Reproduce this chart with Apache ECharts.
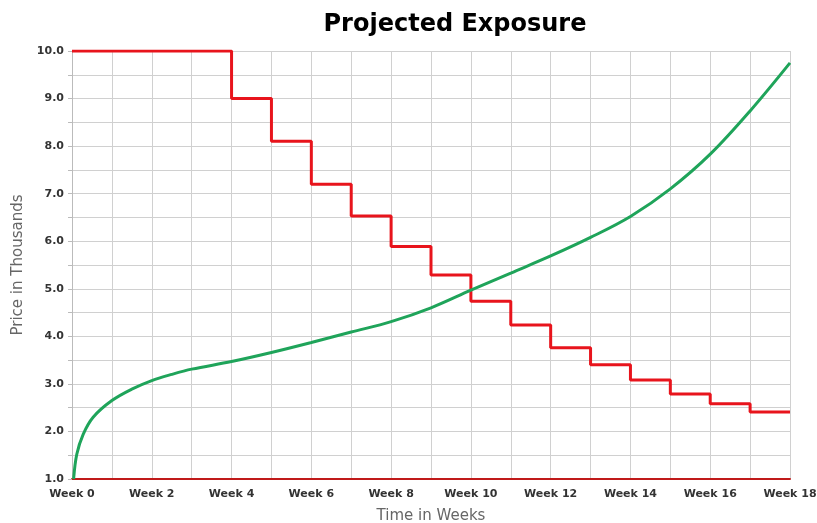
<!DOCTYPE html>
<html>
<head>
<meta charset="utf-8">
<script src="https://cdn.jsdelivr.net/npm/echarts@6/dist/echarts.min.js"></script>
<style>
  html, body { margin: 0; padding: 0; background: #fff; }
  #chart { width: 817px; height: 523px; }
</style>
</head>
<body>
<div id="chart"></div>
<script>
// price level per week (step line), last point repeats to close at week 18
const weeks = [0, 1, 2, 3, 4, 5, 6, 7, 8, 9, 10, 11, 12, 13, 14, 15, 16, 17, 18];
const stepPrice = [10, 10, 10, 10, 9.0, 8.1, 7.2, 6.53, 5.89, 5.29, 4.74, 4.24, 3.76, 3.40, 3.08, 2.79, 2.58, 2.41, 2.41];

// exposure curve, sampled along the week axis
const curveWeeks = [0.04, 0.12, 0.28, 0.53, 1, 1.5, 2, 2.5, 3, 4, 5, 6, 7, 8, 9, 10, 11, 12, 13, 14, 15, 16, 17, 18];
const curveValue = [1.0, 1.52, 1.94, 2.3, 2.65, 2.89, 3.07, 3.2, 3.31, 3.47, 3.66, 3.87, 4.09, 4.31, 4.6, 4.97, 5.33, 5.69, 6.08, 6.52, 7.1, 7.83, 8.74, 9.75];

const chart = echarts.init(document.getElementById("chart"));

const labelFont = "DejaVu Sans";

chart.setOption({
  animation: false,
  title: {
    text: "Projected Exposure",
    left: 450,
    textAlign: "center",
    top: 8,
    textStyle: { fontFamily: labelFont, fontWeight: "bold", fontSize: 24, color: "#000" }
  },
  grid: { left: 72, right: 27, top: 51, bottom: 44, outerBoundsMode: "none" },
  xAxis: {
    type: "value",
    min: 0,
    max: 18,
    interval: 1,
    name: "Time in Weeks",
    nameLocation: "middle",
    nameGap: 30,
    nameTextStyle: { fontFamily: labelFont, fontSize: 15, color: "#666" },
    axisLine: { lineStyle: { color: "#c01a1a", width: 2 } },
    axisTick: { show: false },
    axisLabel: {
      margin: 10,
      fontFamily: labelFont,
      fontWeight: "bold",
      fontSize: 11,
      color: "#333",
      formatter: v => (v % 2 === 0 ? "Week " + v : "")
    },
    splitLine: { show: true, lineStyle: { color: "#d0d0d0", width: 1 } }
  },
  yAxis: {
    type: "value",
    min: 1,
    max: 10,
    interval: 0.5,
    name: "Price in Thousands",
    nameLocation: "middle",
    nameGap: 40,
    nameTextStyle: { fontFamily: labelFont, fontSize: 15, color: "#666" },
    axisLine: { show: true, lineStyle: { color: "#bbb" } },
    axisTick: { show: true, length: 4, lineStyle: { color: "#bbb" } },
    axisLabel: {
      margin: 8,
      fontFamily: labelFont,
      fontWeight: "bold",
      fontSize: 11,
      color: "#333",
      formatter: v => (Math.abs(v % 1) < 1e-9 ? v.toFixed(1) : "")
    },
    splitLine: { show: true, lineStyle: { color: "#d0d0d0", width: 1 } }
  },
  series: [
    {
      name: "Exposure",
      type: "line",
      data: curveWeeks.map((w, i) => [w, curveValue[i]]),
      smooth: 0.35,
      showSymbol: false,
      lineStyle: { color: "#1fa45a", width: 3 },
      z: 3
    },
    {
      name: "Price",
      type: "line",
      step: "end",
      data: weeks.map((w, i) => [w, stepPrice[i]]),
      showSymbol: false,
      lineStyle: { color: "#e8141c", width: 3 },
      z: 2
    }
  ]
});
</script>
</body>
</html>
